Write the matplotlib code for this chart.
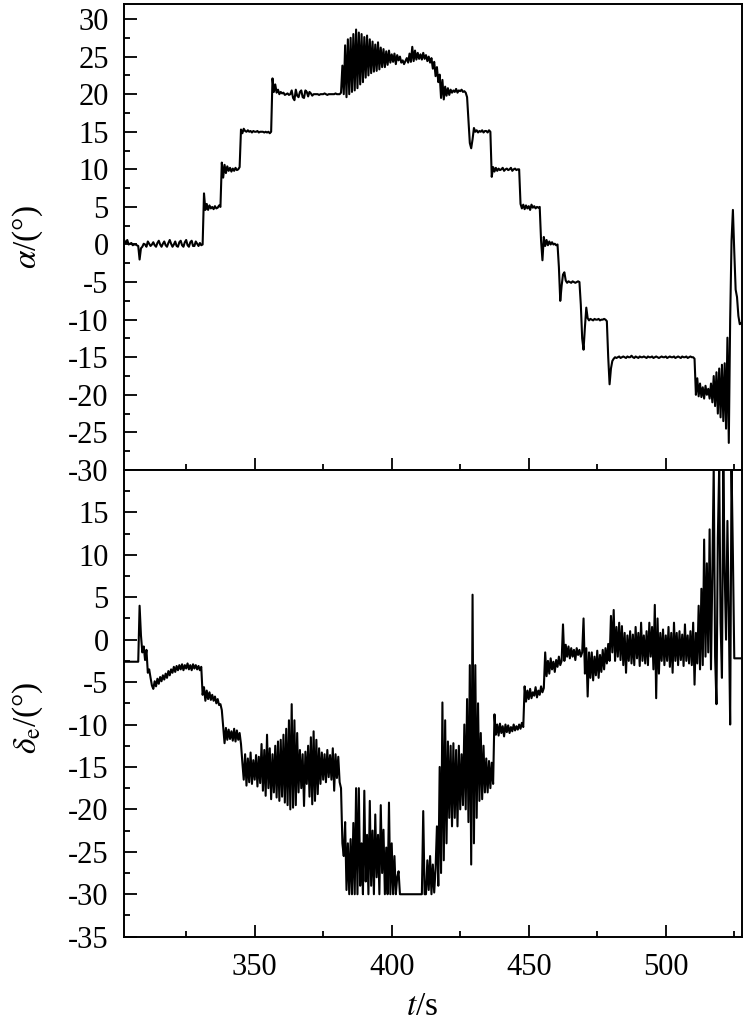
import matplotlib
matplotlib.use('Agg')
import matplotlib.pyplot as plt
from matplotlib.ticker import MultipleLocator
import numpy as np

plt.rcParams['font.family'] = 'Liberation Serif'
plt.rcParams['mathtext.fontset'] = 'stix'
plt.rcParams['axes.unicode_minus'] = False

# samples every 0.5 s, starting at t0
t0 = 302.5
dt = 0.5

# angle of attack alpha, deg (one row = 10 s)
alpha_deg = [
    0.5, 0.2, 0.6, 0.0, 0.1, 0.2, -0.1, 0.0, 0.0, -0.1, -0.2, -2.0, -0.5, -0.3, 0.1, 0.0, -0.3, 0.4, 0.1, -0.2,
    0.0, 0.3, -0.1, -0.3, 0.2, 0.5, 0.0, -0.3, 0.1, 0.4, -0.1, -0.3, 0.2, 0.6, 0.1, -0.3, 0.0, 0.4, -0.2, -0.3,
    0.3, 0.5, -0.1, -0.3, 0.3, 0.6, -0.1, -0.3, 0.3, 0.5, -0.2, -0.2, 0.4, 0.1, -0.2, 0.2, -0.1, 0.0, 6.8, 4.6,
    5.4, 4.6, 5.2, 4.8, 5.0, 4.7, 5.1, 4.8, 4.9, 5.2, 5.0, 10.9, 8.9, 10.6, 9.5, 10.4, 9.8, 10.2, 9.7, 10.1,
    9.8, 10.2, 9.9, 10.0, 10.3, 15.3, 14.8, 15.4, 15.1, 15.0, 15.2, 15.0, 15.1, 14.9, 15.1, 15.0, 15.0, 15.1, 14.9, 15.0,
    15.0, 15.0, 14.9, 15.0, 14.9, 15.0, 14.8, 15.0, 22.1, 20.3, 21.3, 20.2, 20.6, 20.0, 20.3, 20.1, 20.2, 19.9, 20.0, 20.1,
    19.9, 20.0, 20.5, 19.5, 19.2, 20.6, 19.8, 19.6, 20.3, 20.5, 19.6, 19.5, 20.5, 20.3, 19.7, 20.3, 20.1, 19.8, 20.0, 20.0,
    20.0, 20.0, 19.9, 20.0, 20.0, 20.0, 20.1, 20.0, 19.9, 20.0, 20.0, 20.0, 20.0, 20.0, 20.1, 20.0, 20.0, 20.0, 20.2, 23.8,
    20.0, 26.5, 19.6, 27.3, 20.0, 27.5, 20.3, 28.0, 20.5, 28.6, 20.8, 28.2, 21.3, 28.0, 21.6, 27.6, 22.2, 27.8, 22.5, 27.3,
    22.8, 27.0, 23.0, 26.6, 23.1, 26.9, 23.3, 26.2, 23.6, 26.0, 23.6, 25.7, 23.9, 25.8, 24.2, 25.3, 24.3, 25.4, 24.0, 25.2,
    24.5, 25.0, 24.2, 24.5, 24.0, 24.4, 24.8, 24.2, 25.4, 24.3, 26.3, 24.4, 25.8, 24.6, 25.5, 24.7, 25.3, 24.6, 25.5, 24.7,
    25.2, 24.4, 25.0, 24.2, 24.8, 23.4, 24.3, 22.4, 23.6, 21.6, 22.6, 19.5, 21.9, 19.3, 21.0, 19.8, 20.8, 19.9, 20.6, 20.2,
    20.5, 20.3, 20.7, 20.2, 20.5, 20.4, 20.6, 20.3, 20.4, 20.2, 19.6, 16.5, 13.5, 12.8, 14.0, 15.5, 15.0, 15.2, 14.9, 15.1,
    15.0, 15.2, 14.9, 15.1, 15.1, 14.9, 15.2, 15.0, 9.0, 10.3, 9.7, 10.2, 9.8, 10.1, 9.9, 10.0, 10.2, 9.8, 10.0, 10.1,
    9.9, 10.0, 10.2, 9.8, 10.0, 10.1, 9.9, 10.0, 10.0, 5.4, 4.8, 5.3, 4.7, 5.2, 4.8, 5.1, 4.6, 5.3, 4.9, 5.1,
    4.8, 5.0, 4.9, 5.0, 0.5, -2.1, 1.0, -0.2, 0.6, -0.1, 0.4, 0.0, 0.3, 0.0, 0.1, -0.1, 0.0, -3.0, -7.5, -5.5,
    -4.0, -3.7, -4.8, -5.1, -4.9, -5.0, -5.1, -4.9, -5.0, -5.1, -5.0, -4.9, -5.0, -8.0, -12.5, -14.0, -11.0, -8.4, -9.8, -10.1,
    -9.9, -10.0, -10.1, -9.9, -10.0, -10.0, -9.9, -10.1, -10.0, -10.0, -9.9, -10.0, -10.2, -15.0, -18.6, -16.5, -15.5, -15.2, -15.0, -15.1,
    -15.0, -14.9, -15.1, -15.0, -14.9, -15.0, -15.1, -14.9, -15.0, -15.0, -14.8, -15.0, -15.1, -14.9, -15.0, -15.1, -14.9, -15.0, -15.0, -14.9,
    -15.0, -15.1, -14.9, -15.0, -15.0, -14.9, -15.1, -15.0, -14.9, -15.0, -15.1, -15.0, -14.9, -15.0, -15.0, -14.9, -15.1, -15.0, -14.9, -15.0,
    -15.0, -14.9, -15.1, -15.0, -14.9, -15.0, -15.1, -14.9, -15.0, -15.0, -14.9, -15.1, -15.0, -14.9, -15.0, -15.0, -15.2, -20.0, -17.8, -20.2,
    -18.5, -20.3, -19.0, -20.5, -18.8, -20.0, -19.2, -20.5, -18.5, -21.0, -17.5, -21.5, -17.0, -22.5, -16.5, -23.0, -16.0, -23.5, -15.8, -24.5,
    -12.4, -26.4, -10.0, 0.5, 4.6, -1.0, -6.0, -7.0, -9.5, -10.6, -10.5,
]

# elevator deflection delta_e, deg (one row = 10 s)
delta_deg = [
    -2.6, -2.6, -2.6, -2.6, -2.6, -2.6, -2.6, -2.6, -2.6, -2.6, -2.6, 4.0, 0.5, -1.5, -0.8, -2.4, -1.2, -3.9, -3.5, -4.5,
    -5.4, -5.8, -4.9, -5.5, -4.6, -5.2, -4.4, -4.9, -4.2, -4.7, -4.0, -4.5, -3.7, -4.2, -3.5, -3.9, -3.2, -3.8, -3.1, -3.6,
    -3.0, -3.5, -2.9, -3.6, -3.0, -3.4, -2.8, -3.5, -3.0, -3.6, -2.9, -3.4, -3.0, -3.5, -3.1, -3.6, -3.2, -6.5, -5.6, -7.2,
    -6.0, -7.0, -6.2, -7.1, -6.5, -7.2, -6.7, -7.5, -7.0, -7.7, -7.6, -8.3, -10.2, -12.2, -10.4, -11.8, -10.6, -11.7, -10.8, -11.9,
    -10.5, -12.0, -10.7, -11.8, -11.0, -12.3, -14.5, -16.5, -13.5, -17.2, -14.0, -16.8, -13.3, -17.0, -14.2, -16.5, -13.6, -17.3, -13.8, -16.9,
    -12.3, -17.8, -13.0, -18.4, -11.2, -17.5, -12.8, -18.8, -13.5, -18.0, -12.5, -18.6, -12.0, -19.0, -11.8, -18.5, -11.2, -19.2, -10.5, -19.5,
    -9.5, -20.0, -7.6, -19.8, -9.5, -19.5, -11.0, -18.0, -13.0, -17.5, -13.5, -19.6, -13.2, -17.0, -12.5, -18.5, -11.5, -19.4, -10.8, -19.0,
    -11.8, -18.2, -12.8, -17.0, -13.3, -16.5, -13.5, -16.8, -13.0, -16.2, -13.6, -16.5, -12.8, -17.8, -13.5, -16.3, -13.8, -16.8, -17.5, -24.0,
    -25.5, -21.5, -29.5, -24.0, -30.0, -23.5, -30.0, -21.6, -30.0, -17.5, -30.0, -17.5, -29.0, -24.0, -30.0, -17.8, -28.5, -23.0, -30.0, -19.0,
    -29.0, -22.5, -30.0, -20.6, -28.0, -23.0, -30.0, -19.5, -27.5, -22.4, -30.0, -24.5, -30.0, -19.2, -30.0, -24.0, -30.0, -25.5, -30.0, -28.0,
    -27.3, -30.0, -30.0, -30.0, -30.0, -30.0, -30.0, -30.0, -30.0, -30.0, -30.0, -30.0, -30.0, -30.0, -30.0, -30.0, -30.0, -30.0, -20.2, -30.0,
    -30.0, -26.0, -29.5, -25.5, -30.0, -26.5, -29.8, -27.0, -22.0, -29.0, -15.0, -27.5, -7.4, -26.0, -9.5, -24.0, -12.0, -21.0, -12.5, -22.0,
    -12.2, -21.0, -13.0, -22.0, -12.5, -20.0, -13.5, -19.5, -10.0, -20.0, -7.0, -21.5, -3.0, -26.5, 5.3, -24.0, -3.0, -21.0, -7.5, -19.0,
    -11.0, -18.8, -12.5, -18.0, -14.0, -18.0, -14.3, -17.5, -14.5, -17.0, -8.8, -11.2, -10.0, -11.3, -9.9, -11.0, -10.2, -11.4, -10.0, -10.9,
    -10.1, -11.0, -10.3, -10.8, -10.0, -10.7, -10.2, -10.6, -10.0, -10.5, -9.8, -10.3, -5.5, -7.3, -6.0, -7.0, -5.8, -6.9, -6.2, -6.6,
    -5.6, -6.8, -6.0, -6.5, -5.5, -6.2, -5.7, -1.5, -4.3, -2.5, -4.0, -2.2, -3.5, -2.6, -3.8, -2.4, -3.2, -2.0, -3.0, -2.5,
    1.8, -2.5, -0.6, -2.0, -0.8, -2.2, -1.0, -2.0, -1.2, -2.4, -1.0, -1.8, -1.2, -2.0, -1.5, 2.5, -4.0, -1.0, -6.7, -1.5,
    -4.5, -1.5, -4.8, -2.0, -4.2, -1.3, -4.5, -1.8, -3.8, -1.2, -3.5, -1.0, -2.8, -0.5, -2.5, 2.8, -1.5, 3.5, -2.5, 1.5,
    -2.0, 2.0, -2.4, 1.6, -3.0, 0.8, -3.9, 0.5, -2.5, 1.0, -2.8, 0.6, -3.0, 1.5, -2.2, 0.8, -3.1, 2.0, -2.5, 0.5,
    -2.8, 1.0, -3.0, 2.0, -2.0, 1.5, -3.5, 4.1, -6.9, 2.5, -4.0, 0.8, -2.5, 1.2, -3.0, 0.5, -2.5, 1.5, -3.2, 0.8,
    -3.9, 2.0, -2.5, 0.8, -3.0, 1.0, -2.4, 0.6, -3.1, 1.8, -2.5, 0.5, -2.8, 1.0, -3.0, 2.0, -5.3, 0.8, -2.8, 4.0,
    -3.5, 6.0, -3.0, 11.8, -2.0, 9.0, -1.5, 13.0, -3.5, 8.0, 20.5, -2.0, -7.6, 12.0, 20.5, 2.0, -4.5, 20.5, 8.0, 0.0,
    14.0, 3.0, -10.0, 20.5, 10.0, -2.2, -2.2, -2.2, -2.2, -2.2, -2.2,
]

x_range = (302.3, 527.7)
alpha_lim = (-30, 32)
delta_lim = (-35, 20)
alpha_ticks = list(range(-30, 31, 5))
delta_ticks = list(range(-35, 16, 5))

t_alpha = t0 + dt * np.arange(len(alpha_deg))
t_delta = t0 + dt * np.arange(len(delta_deg))

fig = plt.figure(figsize=(7.5, 10.23), dpi=100)
ax1 = fig.add_axes([0.1653, 0.5406, 0.8236, 0.4555])
ax2 = fig.add_axes([0.1653, 0.0844, 0.8236, 0.4562])

ax1.plot(t_alpha, alpha_deg, color='black', lw=1.5)
ax2.plot(t_delta, delta_deg, color='black', lw=1.5)

for ax in (ax1, ax2):
    ax.set_xlim(*x_range)
    ax.xaxis.set_major_locator(MultipleLocator(50))
    ax.xaxis.set_minor_locator(MultipleLocator(25))
    ax.yaxis.set_minor_locator(MultipleLocator(2.5))
    ax.tick_params(which='both', direction='in', top=False, right=False,
                   width=1.3, labelsize=22)
    ax.tick_params(which='major', length=9)
    ax.tick_params(which='minor', length=4.5)
    ax.tick_params(axis='y', pad=11)
    ax.tick_params(axis='x', pad=12)
    for sp in ax.spines.values():
        sp.set_linewidth(1.4)

ax1.set_ylim(*alpha_lim)
ax1.set_yticks(alpha_ticks)
ax2.set_ylim(*delta_lim)
ax2.set_yticks(delta_ticks)
ax1.tick_params(labelbottom=False)

ax1.set_ylabel(r'$\alpha$/(°)', fontsize=24)
ax1.yaxis.set_label_coords(-0.128, 0.5)
ax2.set_ylabel(r'$\delta_{\mathrm{e}}$/(°)', fontsize=24)
ax2.yaxis.set_label_coords(-0.128, 0.47)
ax2.set_xlabel(r'$t$/s', fontsize=24)
ax2.xaxis.set_label_coords(0.482, -0.118)

fig.savefig('out.png', dpi=100)
